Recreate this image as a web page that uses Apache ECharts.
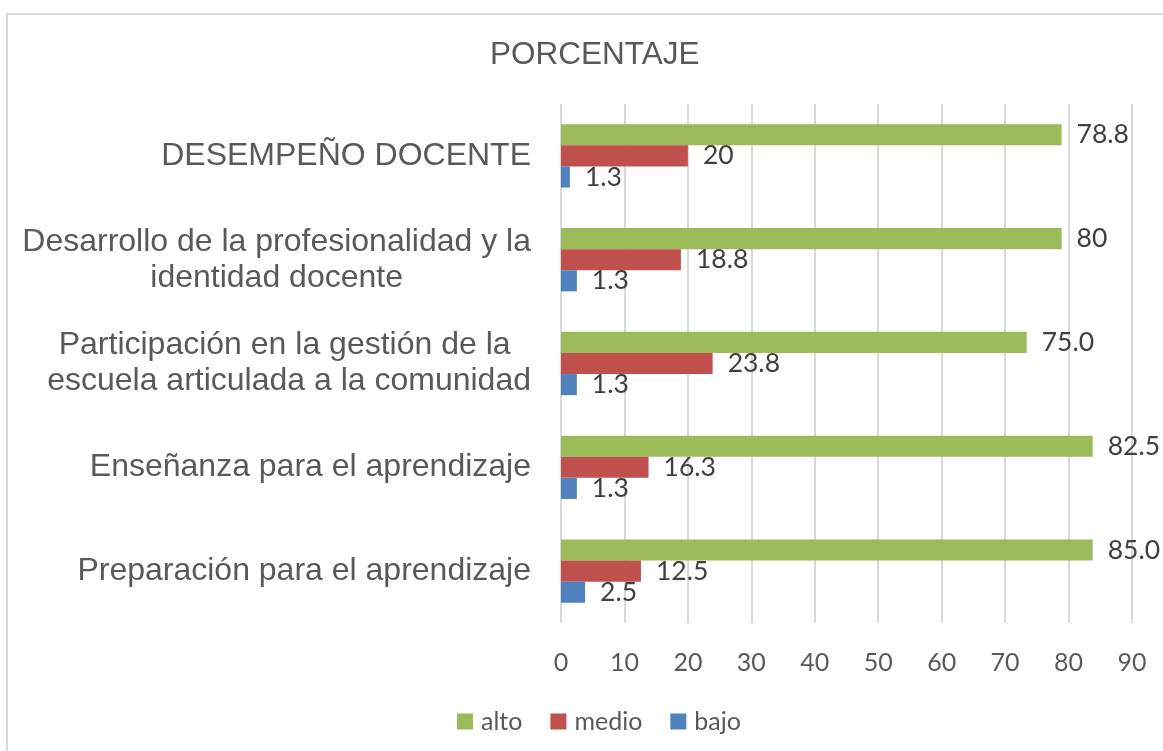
<!DOCTYPE html>
<html>
  <head>
    <meta charset="utf-8">
    <script src="https://cdn.jsdelivr.net/npm/echarts@6/dist/echarts.min.js"></script>
    <style>
      html, body { margin: 0; padding: 0; background: #fff; }
    </style>
  </head>
  <body>
    <div class="chart" style="width:1163px;height:751px;"></div>
    <script>
      // categories, bottom to top as the y axis draws them
      var categories = [
        'Preparación para el aprendizaje',
        'Enseñanza para el aprendizaje',
        'Participación en la gestión de la \nescuela articulada a la comunidad',
        'Desarrollo de la profesionalidad y la\nidentidad docente',
        'DESEMPEÑO DOCENTE'
      ];

      // bar lengths as drawn in the picture
      var alto = [83.8, 83.8, 73.4, 78.9, 78.9];
      var medio = [12.6, 13.8, 23.9, 18.9, 20.0];
      var bajo = [3.8, 2.5, 2.5, 2.5, 1.4];

      // data label texts as printed next to the bars
      var altoLabels = ['85.0', '82.5', '75.0', '80', '78.8'];
      var medioLabels = ['12.5', '16.3', '23.8', '18.8', '20'];
      var bajoLabels = ['2.5', '1.3', '1.3', '1.3', '1.3'];

      var xTicks = { min: 0, max: 90, interval: 10 };

      var numFont = 'Lato';
      var textFont = 'Liberation Sans';

      function makeSeries(name, values, labels, color) {
        return {
          name: name,
          type: 'bar',
          data: values,
          barGap: '0%',
          barCategoryGap: '39%',
          itemStyle: { color: color },
          label: {
            show: true,
            position: 'right',
            distance: 15,
            fontFamily: numFont,
            fontSize: 26.5,
            color: '#404040',
            formatter: function (p) { return labels[p.dataIndex]; }
          }
        };
      }

      var chart = echarts.init(document.getElementsByClassName('chart')[0], null, { renderer: 'canvas' });

      chart.setOption({
        animation: false,
        backgroundColor: '#ffffff',
        title: {
          text: 'PORCENTAJE',
          left: 485,
          top: 34,
          textStyle: {
            fontFamily: textFont,
            fontSize: 31.5,
            fontWeight: 'normal',
            color: '#595959'
          }
        },
        graphic: [{
          type: 'rect',
          shape: { x: 7, y: 14, width: 1170, height: 760 },
          style: { fill: 'none', stroke: '#d9d9d9', lineWidth: 2 },
          silent: true
        }],
        legend: {
          data: ['alto', 'medio', 'bajo'],
          left: 452,
          top: 704,
          icon: 'rect',
          itemWidth: 16,
          itemHeight: 16,
          itemGap: 28,
          textStyle: {
            fontFamily: numFont,
            fontSize: 25,
            color: '#595959',
            padding: [0, 0, 0, 3]
          }
        },
        grid: {
          left: 561,
          right: 31,
          top: 104,
          bottom: 128,
          containLabel: false,
          outerBoundsMode: 'none'
        },
        xAxis: {
          type: 'value',
          min: xTicks.min,
          max: xTicks.max,
          interval: xTicks.interval,
          axisLine: { show: false },
          axisTick: { show: false },
          splitLine: { show: true, lineStyle: { color: '#d9d9d9', width: 2 } },
          axisLabel: {
            fontFamily: numFont,
            fontSize: 25,
            color: '#595959',
            margin: 27
          }
        },
        yAxis: {
          type: 'category',
          data: categories,
          axisLine: { show: false },
          axisTick: { show: false },
          axisLabel: {
            margin: 30,
            formatter: function (v) {
              return v.split('\n').map(function (l) { return '{c|' + l + '}'; }).join('\n');
            },
            rich: {
              c: {
                align: 'center',
                fontFamily: textFont,
                fontSize: 32,
                lineHeight: 36,
                color: '#595959'
              }
            }
          }
        },
        // first series sits at the top of each group
        series: [
          makeSeries('alto', alto, altoLabels, '#9BBB59'),
          makeSeries('medio', medio, medioLabels, '#C0504D'),
          makeSeries('bajo', bajo, bajoLabels, '#4F81BD')
        ]
      });
    </script>
  </body>
</html>
